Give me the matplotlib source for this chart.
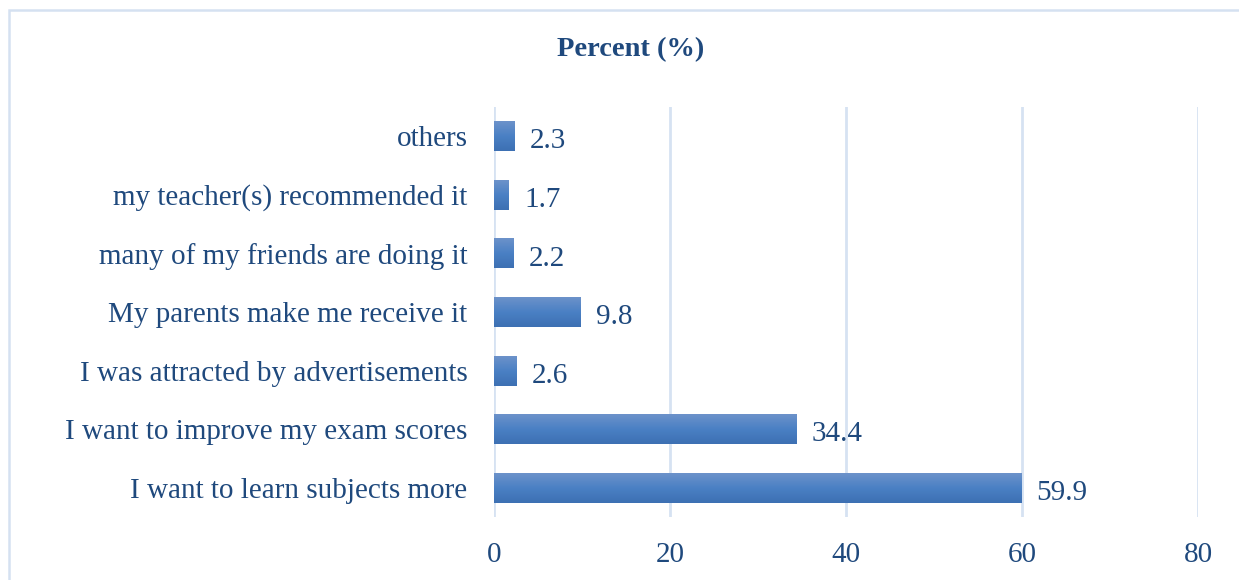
import matplotlib
matplotlib.use("Agg")
import matplotlib.pyplot as plt
import numpy as np
from matplotlib.patches import Rectangle
from matplotlib.colors import LinearSegmentedColormap

categories = [
    "I want to learn subjects more",
    "I want to improve my exam scores",
    "I was attracted by advertisements",
    "My parents make me receive it",
    "many of my friends are doing it",
    "my teacher(s) recommended it",
    "others",
]
values = [59.9, 34.4, 2.6, 9.8, 2.2, 1.7, 2.3]
xticks = [0, 20, 40, 60, 80]
title = "Percent (%)"

text_color = "#1F497D"
grid_color = "#D6E2F2"
font = ["Liberation Serif", "DejaVu Serif"]

fig = plt.figure(figsize=(12.39, 5.8), dpi=100)
fig.patch.set_facecolor("white")

# chart area border
fig.patches.append(Rectangle((9 / 1239, -0.05), 1.2, (580 - 10) / 580 + 0.05,
                             transform=fig.transFigure, fill=False,
                             edgecolor="#D5E1F1", linewidth=1.8, zorder=0))

ax = fig.add_axes([494 / 1239, (580 - 517) / 580, (1198 - 494) / 1239, (517 - 107) / 580])
y = np.arange(len(categories))
bars = ax.barh(y, values, height=0.51, color="none", edgecolor="none", zorder=3)

cmap = LinearSegmentedColormap.from_list("g", ["#3D70B3", "#4A80C4", "#6C92CA"])
grad = np.linspace(0, 1, 64).reshape(-1, 1)
for b in bars:
    x0, y0, w, h = b.get_x(), b.get_y(), b.get_width(), b.get_height()
    ax.imshow(grad, cmap=cmap, extent=(x0, x0 + w, y0, y0 + h), aspect="auto",
              origin="lower", zorder=3, interpolation="bilinear")

for yi, v in zip(y, values):
    ax.annotate(f"{v}", (v, yi), xytext=(11, -1.5), textcoords="offset points",
                va="center_baseline", ha="left", fontsize=21, color=text_color, family=font)

ax.set_xlim(0, 80)
ax.set_ylim(-0.5, len(categories) - 0.5)
ax.set_xticks(xticks)
ax.set_xticklabels([str(t) for t in xticks], fontsize=21, color=text_color, family=font)
ax.set_yticks(y)
ax.set_yticklabels(categories, fontsize=21, color=text_color, family=font)
ax.tick_params(axis="both", length=0)
ax.tick_params(axis="x", pad=18)
ax.tick_params(axis="y", pad=19)
ax.xaxis.grid(True, color=grid_color, linewidth=2)
ax.set_axisbelow(True)
for s in ax.spines.values():
    s.set_visible(False)

fig.text(631 / 1239, 1 - 50 / 580, title, ha="center", va="center", fontsize=20.5,
         fontweight="bold", color=text_color, family=font)

fig.savefig("out.png", dpi=100, facecolor="white")
